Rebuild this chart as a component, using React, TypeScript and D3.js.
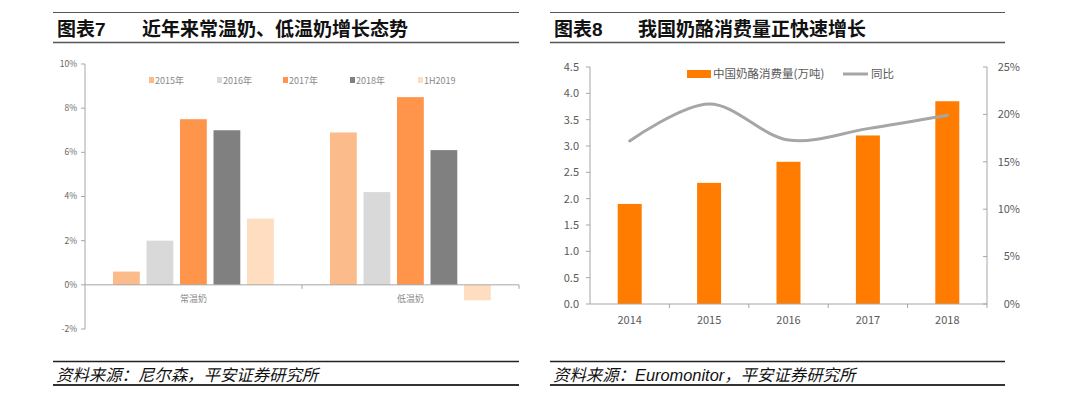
import React from "react";
import * as d3 from "d3";

// Chart 7 data
const groups7 = ["常温奶", "低温奶"];
const series7 = ["2015年", "2016年", "2017年", "2018年", "1H2019"];
const values7 = [
  [0.6, 6.9],
  [2.0, 4.2],
  [7.5, 8.5],
  [7.0, 6.1],
  [3.0, -0.7],
];
const colors7 = ["#FBBB8A", "#D9D9D9", "#FF944B", "#808080", "#FFDDC1"];
const ticks7 = [-2, 0, 2, 4, 6, 8, 10];

// Chart 8 data
const years8 = ["2014", "2015", "2016", "2017", "2018"];
const consumption8 = [1.9, 2.3, 2.7, 3.2, 3.85];
const yoy8 = [17.2, 21.1, 17.3, 18.5, 19.9];
const leftTicks8 = [0, 0.5, 1, 1.5, 2, 2.5, 3, 3.5, 4, 4.5];
const rightTicks8 = [0, 5, 10, 15, 20, 25];

const FONT = "'Noto Sans CJK SC', 'Noto Sans', sans-serif";
const HEAD = "Arial, 'Liberation Sans', 'Noto Sans CJK SC', sans-serif";

function Chart7() {
  const x0 = d3.scaleBand().domain(groups7).range([85, 519]);
  const x1 = d3.scaleBand().domain(series7).range([28, 188.8]).paddingInner(0.2);
  const y = d3.scaleLinear().domain([-2, 10]).range([329, 64]);
  const axisC = "#A6A6A6";
  const legendX = [149, 217, 283, 350, 418];
  return (
    <g>
      {series7.map((s, i) =>
        groups7.map((g, j) => {
          const v = values7[i][j];
          const xx = (x0(g) as number) + (x1(s) as number);
          return (
            <rect key={s + g} x={xx} width={x1.bandwidth()} y={y(Math.max(0, v))}
              height={Math.abs(y(v) - y(0))} fill={colors7[i]} />
          );
        })
      )}
      <line x1={85} x2={85} y1={64} y2={329} stroke={axisC} />
      {ticks7.map((t) => (
        <g key={t}>
          <line x1={81} x2={85} y1={y(t)} y2={y(t)} stroke={axisC} />
          <text x={77} y={y(t)} dy="0.35em" textAnchor="end" fontSize={8.5} fill="#666" fontFamily={FONT}>{t}%</text>
        </g>
      ))}
      <line x1={85} x2={519} y1={y(0)} y2={y(0)} stroke={axisC} />
      {[302, 519].map((xx) => (
        <line key={xx} x1={xx} x2={xx} y1={y(0)} y2={y(0) + 4} stroke={axisC} />
      ))}
      {groups7.map((g) => (
        <text key={g} x={(x0(g) as number) + x0.bandwidth() / 2} y={302} textAnchor="middle" fontSize={9} fill="#888" fontFamily={FONT}>{g}</text>
      ))}
      {series7.map((s, i) => (
        <g key={s}>
          <rect x={legendX[i]} y={77} width={5} height={6} fill={colors7[i]} />
          <text x={legendX[i] + 6} y={83.5} fontSize={9} fill="#888" fontFamily={FONT}>{s}</text>
        </g>
      ))}
    </g>
  );
}

function Chart8() {
  const xc = d3.scaleBand().domain(years8).range([590, 987]);
  const yL = d3.scaleLinear().domain([0, 4.5]).range([304, 67]);
  const yR = d3.scaleLinear().domain([0, 25]).range([304, 67]);
  const axisC = "#A6A6A6";
  const line = d3
    .line<number>()
    .x((_, i) => (xc(years8[i]) as number) + xc.bandwidth() / 2)
    .y((d) => yR(d))
    .curve(d3.curveCatmullRom.alpha(0.5));
  return (
    <g>
      {years8.map((yr, i) => (
        <rect key={yr} x={(xc(yr) as number) + xc.bandwidth() / 2 - 12} width={24} y={yL(consumption8[i])}
          height={yL(0) - yL(consumption8[i])} fill="#FF7C00" />
      ))}
      <path d={line(yoy8) || ""} fill="none" stroke="#A6A6A6" strokeWidth={3} strokeLinecap="round" />
      <line x1={590} x2={590} y1={67} y2={304} stroke={axisC} />
      {leftTicks8.map((t) => (
        <g key={t}>
          <line x1={586} x2={590} y1={yL(t)} y2={yL(t)} stroke={axisC} />
          <text x={579} y={yL(t)} dy="0.35em" textAnchor="end" fontSize={11} fill="#595959" fontFamily={FONT}>{t.toFixed(1)}</text>
        </g>
      ))}
      <line x1={987} x2={987} y1={67} y2={304} stroke={axisC} />
      {rightTicks8.map((t) => (
        <g key={t}>
          <line x1={983} x2={987} y1={yR(t)} y2={yR(t)} stroke={axisC} />
          <text x={1020} y={yR(t)} dy="0.35em" textAnchor="end" fontSize={11} fill="#595959" fontFamily={FONT}>{t}%</text>
        </g>
      ))}
      <line x1={590} x2={987} y1={304} y2={304} stroke={axisC} />
      {years8.map((yr) => (
        <g key={yr}>
          <line x1={(xc(yr) as number) + xc.bandwidth()} x2={(xc(yr) as number) + xc.bandwidth()} y1={304} y2={308} stroke={axisC} />
          <text x={(xc(yr) as number) + xc.bandwidth() / 2} y={324} textAnchor="middle" fontSize={11} fill="#595959" fontFamily={FONT}>{yr}</text>
        </g>
      ))}
      <rect x={687} y={70} width={24} height={8} fill="#FF7C00" />
      <text x={713} y={78} fontSize={11.5} fill="#595959" fontFamily={FONT}>中国奶酪消费量(万吨)</text>
      <line x1={843} x2={868} y1={74} y2={74} stroke="#A6A6A6" strokeWidth={3} />
      <text x={871} y={78} fontSize={11.5} fill="#595959" fontFamily={FONT}>同比</text>
    </g>
  );
}

function Frame({ x1, x2, num, title, titleX, source }: { x1: number; x2: number; num: string; title: string; titleX: number; source: string }) {
  return (
    <g>
      <line x1={x1} x2={x2} y1={12.5} y2={12.5} stroke="#555" strokeWidth={1} />
      <text x={x1 + 4} y={36} fontSize={19} fontWeight="bold" fill="#111" fontFamily={HEAD}>{num}</text>
      <text x={titleX} y={36} fontSize={19} fontWeight="bold" fill="#111" fontFamily={HEAD}>{title}</text>
      <line x1={x1} x2={x2} y1={42.5} y2={42.5} stroke="#555" strokeWidth={1.5} />
      <line x1={x1} x2={x2} y1={361.5} y2={361.5} stroke="#222" strokeWidth={1.5} />
      <text x={x1 + 3} y={380.5} fontSize={16.4} fontStyle="italic" fill="#111" fontFamily={HEAD}>{source}</text>
      <line x1={x1} x2={x2} y1={385} y2={385} stroke="#333" strokeWidth={2} />
    </g>
  );
}

export default function App() {
  return (
    <svg width={1080} height={397} style={{ position: "absolute", left: 0, top: 0, background: "#fff" }}>
      <rect width={1080} height={397} fill="#fff" />
      <Frame x1={53} x2={519} num="图表7" title="近年来常温奶、低温奶增长态势" titleX={142} source="资料来源：尼尔森，平安证券研究所" />
      <Frame x1={550} x2={1005} num="图表8" title="我国奶酪消费量正快速增长" titleX={638} source="资料来源：Euromonitor，平安证券研究所" />
      <Chart7 />
      <Chart8 />
    </svg>
  );
}
